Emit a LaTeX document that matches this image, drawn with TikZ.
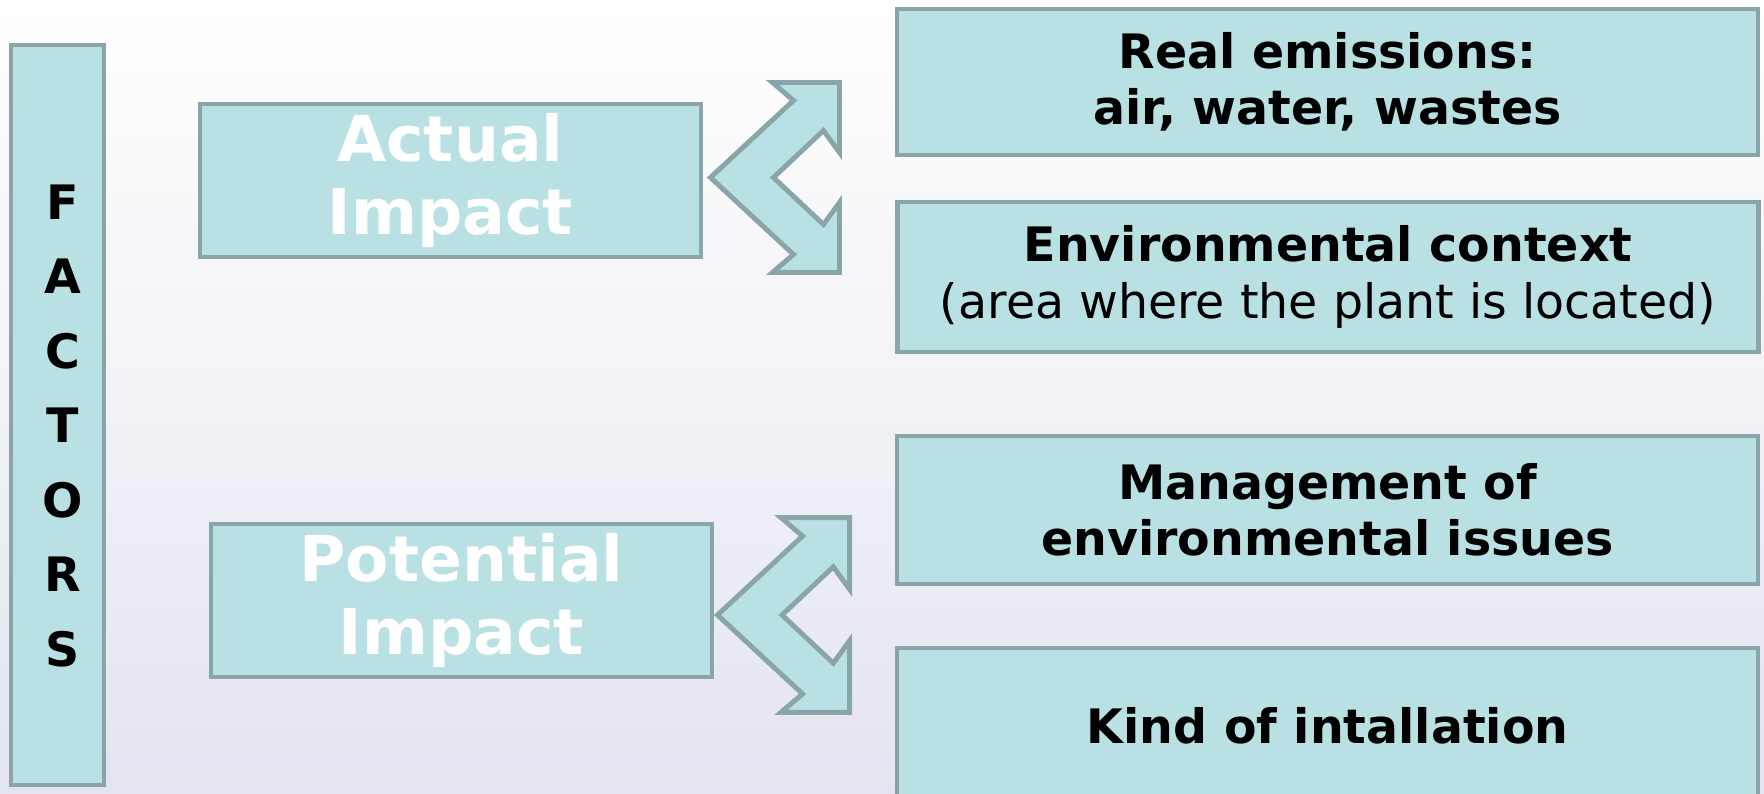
\documentclass[tikz,border=0pt]{standalone}
\usepackage{fontspec}
\setmainfont{DejaVu Sans}
\usepackage{xcolor}
\usetikzlibrary{positioning,calc}

\definecolor{boxfill}{RGB}{185,224,227}
\definecolor{boxline}{RGB}{138,165,168}
\definecolor{lavender}{RGB}{228,228,240}

\begin{document}
\begin{tikzpicture}[
box/.style={
    draw=boxline,
    fill=boxfill,
    line width=1.4pt,
    align=center,
    inner sep=0pt
},
factor/.style={
    box,
    minimum width=5.01cm,
    minimum height=1.53cm,
    text=white,
    font=\fontsize{18}{21}\selectfont\bfseries
},
item/.style={
    box,
    minimum width=8.61cm,
    minimum height=1.48cm,
    font=\fontsize{13.5}{16}\selectfont\bfseries
},
fork/.pic={
    \draw[draw=boxline, fill=boxfill, line width=1.4pt, line join=miter]
    (0,0) -- (0.83,0.77) -- (0.62,0.95) -- (1.29,0.95) -- (1.29,0.25)
    -- (1.13,0.47) -- (0.63,0) -- (1.13,-0.47) -- (1.29,-0.25)
    -- (1.29,-0.95) -- (0.62,-0.95) -- (0.83,-0.77) -- cycle;
}
]

\clip (0,0) rectangle (17.64,7.94);
\shade[top color=white, middle color=white, bottom color=lavender]
    (0,0) rectangle (17.64,7.94);

\node[box, minimum width=0.93cm, minimum height=7.40cm] (factors)
    at (0.575,3.79) {};
\node[align=center, inner sep=0pt,
    font=\fontsize{13.5}{21.2}\selectfont\bfseries] (factorsText)
    at ($(factors.center)+(0.05,-0.11)$) {F\\A\\C\\T\\O\\R\\S};

\node[factor] (actual) at (4.505,6.135) {Actual\\Impact};
\node[factor] (potential) at (4.615,1.935) {Potential\\Impact};

\node[item, minimum height=1.46cm] (emissions) at (13.275,7.12)
{Real emissions:\\air, water, wastes};

\node[item, minimum height=1.50cm] (context) at (13.28,5.17)
{Environmental context\\\mdseries (area where the plant is located)};

\node[item] (management) at (13.275,2.84)
{Management of\\environmental issues};

\node[item, minimum height=1.56cm] (kind) at (13.275,0.68)
{Kind of intallation};

\pic at ($(actual.east)+(0.07,0.03)$) {fork};
\pic[scale=1.025] at ($(potential.east)+(0.03,-0.145)$) {fork};

\end{tikzpicture}
\end{document}
